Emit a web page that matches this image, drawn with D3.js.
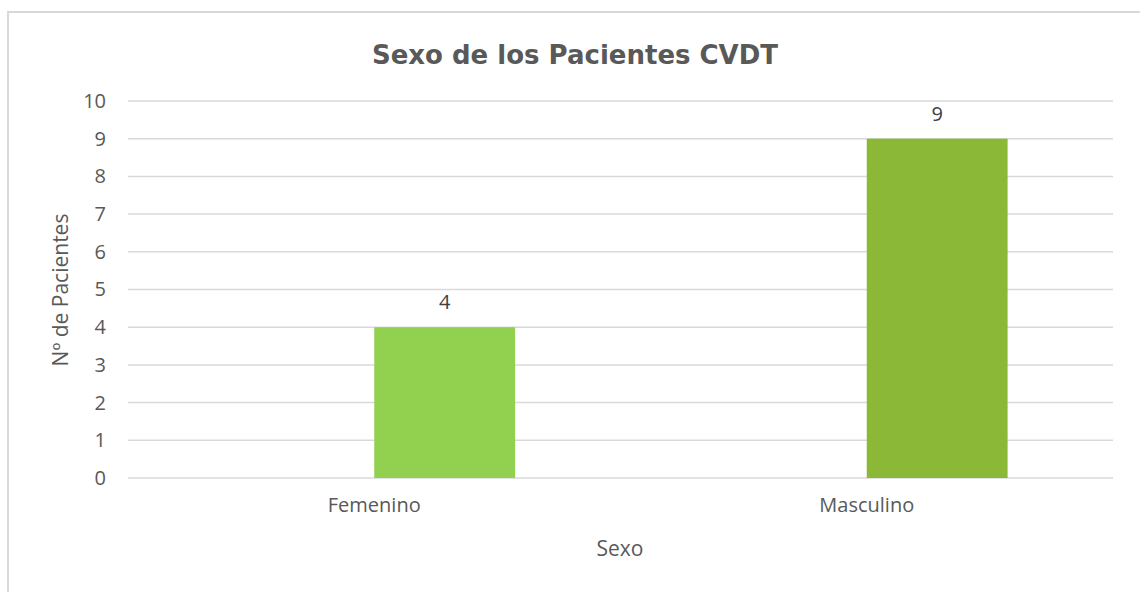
<!DOCTYPE html>
<html>
<head>
<meta charset="utf-8">
<script src="https://cdn.jsdelivr.net/npm/d3@7"></script>
<style>
  body { margin: 0; background: #fff; }
  text { font-family: "Open Sans", sans-serif; fill: #595959; }
</style>
</head>
<body>
<div id="chart"></div>
<script>
// data
var categories = ["Femenino", "Masculino"];
var values = [4, 9];
var barColors = ["#92d050", "#8bb836"];
var yTicks = [0, 1, 2, 3, 4, 5, 6, 7, 8, 9, 10];

var W = 1140, H = 592;
var margin = {top: 101, right: 27, bottom: 114, left: 128};
var width = W - margin.left - margin.right;
var height = H - margin.top - margin.bottom;

var svg = d3.select("#chart")
  .append("svg")
  .attr("width", W)
  .attr("height", H);

// outer chart border
svg.append("rect")
  .attr("x", 8).attr("y", 12)
  .attr("width", W).attr("height", H)
  .attr("fill", "none")
  .attr("stroke", "#d9d9d9")
  .attr("stroke-width", 2);

var g = svg.append("g")
  .attr("transform", "translate(" + margin.left + "," + margin.top + ")");

var x = d3.scaleBand().domain(categories).range([0, width]);
var y = d3.scaleLinear().domain([0, 10]).range([height, 0]);

// gridlines
g.append("g")
  .selectAll("line")
  .data(yTicks)
  .enter().append("line")
  .attr("x1", 0).attr("x2", width)
  .attr("y1", function (d) { return y(d); })
  .attr("y2", function (d) { return y(d); })
  .attr("stroke", "#d9d9d9")
  .attr("stroke-width", 1.5);

// y axis labels
var yAxis = g.append("g")
  .call(d3.axisLeft(y).tickValues(yTicks).tickSize(0).tickPadding(22));
yAxis.select(".domain").remove();
yAxis.selectAll("text")
  .style("font-size", "20px")
  .attr("fill", "#595959");

// x axis labels
var xAxis = g.append("g")
  .attr("transform", "translate(0," + height + ")")
  .call(d3.axisBottom(x).tickSize(0).tickPadding(20));
xAxis.select(".domain").remove();
xAxis.selectAll("text")
  .style("font-size", "20px")
  .attr("fill", "#595959");

// bars: left edge at the band centre (empty second slot of a clustered chart)
var barW = x.bandwidth() * 0.286;
g.selectAll(".bar")
  .data(values)
  .enter().append("rect")
  .attr("class", "bar")
  .attr("x", function (d, i) { return x(categories[i]) + x.bandwidth() / 2; })
  .attr("y", function (d) { return y(d); })
  .attr("width", barW)
  .attr("height", function (d) { return height - y(d); })
  .attr("fill", function (d, i) { return barColors[i]; });

// data labels
g.selectAll(".lbl")
  .data(values)
  .enter().append("text")
  .attr("class", "lbl")
  .attr("x", function (d, i) { return x(categories[i]) + x.bandwidth() / 2 + barW / 2; })
  .attr("y", function (d) { return y(d) - 18; })
  .attr("text-anchor", "middle")
  .style("font-size", "20px")
  .style("fill", "#404040")
  .text(function (d) { return d; });

// title
svg.append("text")
  .attr("x", 575).attr("y", 64)
  .attr("text-anchor", "middle")
  .style("font-family", "DejaVu Sans, sans-serif")
  .style("font-weight", "bold")
  .style("font-size", "26px")
  .text("Sexo de los Pacientes CVDT");

// axis titles
svg.append("text")
  .attr("x", 620).attr("y", 556)
  .attr("text-anchor", "middle")
  .style("font-size", "21px")
  .text("Sexo");

svg.append("text")
  .attr("transform", "translate(68,290)rotate(-90)")
  .attr("text-anchor", "middle")
  .style("font-size", "21px")
  .text("Nº de Pacientes");
</script>
</body>
</html>
